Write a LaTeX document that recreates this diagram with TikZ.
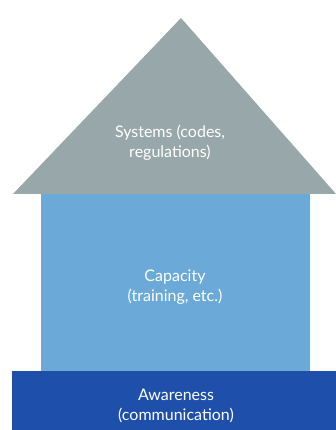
\documentclass[tikz,border=0pt]{standalone}
\usepackage{fontspec}
\setmainfont{Lato}
\definecolor{roofgray}{HTML}{98A7A9}
\definecolor{capblue}{HTML}{6BAAD8}
\definecolor{awblue}{HTML}{1E4FAB}
\begin{document}
\begin{tikzpicture}[x=1pt,y=1pt,
  lbl/.style={text=white,align=center,font=\fontsize{16}{20.5}\selectfont}]
\useasboundingbox (0,0) rectangle (336,430);
\fill[white] (0,0) rectangle (336,430);
% roof
\fill[roofgray] (181,412) -- (336,236) -- (13,236) -- cycle;
% capacity
\fill[capblue] (41,236) rectangle (310,59);
% awareness
\fill[awblue] (12,59) rectangle (336,0);
\node[lbl] (sys) at (170,287) {Systems (codes,\\regulations)};
\node[lbl] (cap) at (175,143) {Capacity\\(training, etc.)};
\node[lbl] (aw) at (176,24) {Awareness\\(communication)};
\end{tikzpicture}
\end{document}
